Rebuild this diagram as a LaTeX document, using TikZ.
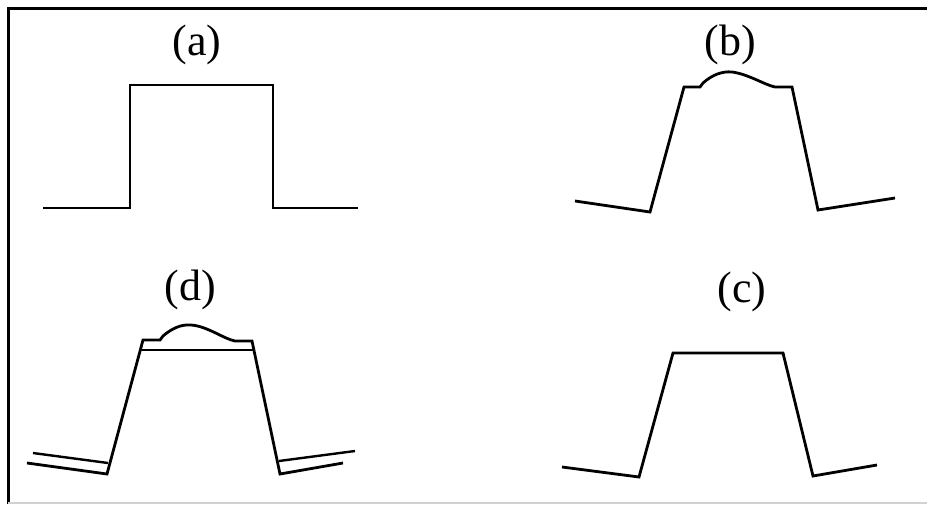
\documentclass[tikz,border=0pt]{standalone}
\usepackage{fontspec}
\setmainfont{Liberation Serif}
\begin{document}
\begin{tikzpicture}[x=1pt,y=-1pt,
  profile/.style={line width=2.8pt,line join=miter,line cap=butt,black},
  thinprofile/.style={line width=2.4pt,line join=miter,black},
  lbl/.style={font=\fontsize{44}{50}\selectfont,inner sep=0pt}]
\useasboundingbox (0,0) rectangle (927,504);
% frame
\draw[line width=3pt,black] (8,504) -- (8,8) -- (927,8);
\draw[line width=2pt,black!18] (8,503) -- (927,503);
% labels
\node[lbl] (la) at (197,45) {(a)};
\node[lbl] (lb) at (730,45) {(b)};
\node[lbl] (ld) at (190,290) {(d)};
\node[lbl] (lc) at (742,292) {(c)};
% (a)
\draw[profile] (43,208) -- (130,208) -- (130,85) -- (273,85) -- (273,208) -- (358,208);
% (b)
\draw[profile] (575,201) -- (650,212) -- (684,87) -- (700,87) -- (703,83)
  .. controls (712,75) and (722,71) .. (732,72)
  .. controls (748,74) and (765,85) .. (775,87) -- (792,87) -- (818,210) -- (895,198);
% (c)
\draw[profile] (562,467) -- (639,477) -- (673,353) -- (783,353) -- (813,476) -- (877,465);
% (d)
\draw[profile] (27,463) -- (107,474) -- (143,340) -- (160,340) -- (163,336)
  .. controls (171,329) and (181,324) .. (191,325)
  .. controls (207,326) and (224,339) .. (235,341) -- (252,341) -- (280,474) -- (343,463);
\draw[thinprofile] (33,453) -- (108,463);
\draw[thinprofile] (279,461) -- (355,451);
\draw[thinprofile] (140,350) -- (254,350);
\end{tikzpicture}
\end{document}
